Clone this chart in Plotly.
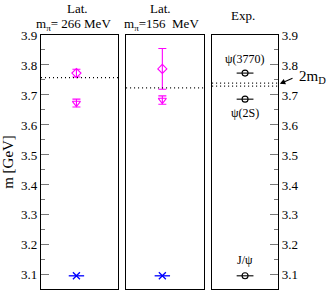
import plotly.graph_objects as go

# ---- data ----
lat266_mass = [3.773, 3.673]
lat266_err = [0.013, 0.013]
lat266_symbols = ["diamond-open", "triangle-down-open"]
lat156_mass = [3.787, 3.683]
lat156_err = [0.068, 0.014]
jpsi_lat = [3.097, 3.097]
exp_names = ["ψ(3770)", "ψ(2S)", "J/ψ"]
exp_mass = [3.773, 3.686, 3.097]
thr266 = 3.758
thr156 = 3.724
thr_exp = [3.7297, 3.7392]
y_ticks = [3.1, 3.2, 3.3, 3.4, 3.5, 3.6, 3.7, 3.8, 3.9]

FONT = "Liberation Serif"
MAG = "#ff00ff"

fig = go.Figure()

# panel 1
for m, e, s in zip(lat266_mass, lat266_err, lat266_symbols):
    fig.add_trace(go.Scatter(x=[0.46], y=[m], mode="markers", xaxis="x", yaxis="y",
                             marker=dict(symbol=s, size=7, color=MAG, line=dict(width=1.1, color=MAG)),
                             error_y=dict(type="data", array=[e], color=MAG, thickness=1.1, width=4)))
# panel 2
for m, e, s in zip(lat156_mass, lat156_err, lat266_symbols):
    fig.add_trace(go.Scatter(x=[0.465], y=[m], mode="markers", xaxis="x2", yaxis="y2",
                             marker=dict(symbol=s, size=7, color=MAG, line=dict(width=1.1, color=MAG)),
                             error_y=dict(type="data", array=[e], color=MAG, thickness=1.1, width=4)))
# J/psi lattice (blue stars)
for xa, ya, xv, yv in [("x", "y", 0.46, jpsi_lat[0]), ("x2", "y2", 0.465, jpsi_lat[1])]:
    for sym, sz in [("x-thin-open", 7), ("line-ew-open", 11)]:
        fig.add_trace(go.Scatter(x=[xv], y=[yv], mode="markers", xaxis=xa, yaxis=ya,
                                 marker=dict(symbol=sym, size=sz, color="blue",
                                             line=dict(width=1.3, color="blue"))))
# panel 3 experiment
exp_x = [0.5] * len(exp_mass)
fig.add_trace(go.Scatter(x=exp_x, y=exp_mass, mode="markers", xaxis="x3", yaxis="y3",
                         marker=dict(symbol="line-ew-open", size=12, color="black",
                                     line=dict(width=1.1, color="black"))))
fig.add_trace(go.Scatter(x=exp_x, y=exp_mass, mode="markers", xaxis="x3", yaxis="y3",
                         marker=dict(symbol="circle-open", size=6, color="black",
                                     line=dict(width=1.1, color="black"))))

# threshold lines
shapes = []
for xr, yr, yv in [("x domain", "y", thr266), ("x2 domain", "y2", thr156),
                   ("x3 domain", "y3", thr_exp[0]), ("x3 domain", "y3", thr_exp[1])]:
    shapes.append(dict(type="line", xref=xr, yref=yr, x0=0, x1=1, y0=yv, y1=yv,
                       line=dict(color="black", width=1.2, dash="1px,3px")))

ann = []
# exp labels
ann.append(dict(x=0.5, y=exp_mass[0], xref="x3", yref="y3", text=exp_names[0], showarrow=False,
                yshift=14, font=dict(family=FONT, size=12, color="black")))
ann.append(dict(x=0.5, y=exp_mass[1], xref="x3", yref="y3", text=exp_names[1], showarrow=False,
                yshift=-14, font=dict(family=FONT, size=12, color="black")))
ann.append(dict(x=0.5, y=exp_mass[2], xref="x3", yref="y3", text=exp_names[2], showarrow=False,
                yshift=16, font=dict(family=FONT, size=12, color="black")))
# 2m_D with arrow
ann.append(dict(x=1.0, y=(thr_exp[0] + thr_exp[1]) / 2, xref="x3 domain", yref="y3",
                ax=16, ay=-7, axref="pixel", ayref="pixel",
                text="", showarrow=True, arrowhead=2, arrowsize=1, arrowwidth=1.1,
                arrowcolor="black", standoff=2))
ann.append(dict(x=1.0, y=(thr_exp[0] + thr_exp[1]) / 2, xref="x3 domain", yref="y3",
                text="2m<sub>D</sub>", showarrow=False, xanchor="left", xshift=19, yshift=8,
                font=dict(family=FONT, size=15, color="black")))
# panel titles
ann.append(dict(x=0.48, y=1, xref="x domain", yref="paper", text="Lat.", showarrow=False,
                yanchor="bottom", yshift=17, font=dict(family=FONT, size=13, color="black")))
ann.append(dict(x=0.42, y=1, xref="x domain", yref="paper", text="m<sub>π</sub>= 266 MeV",
                showarrow=False, yanchor="bottom", yshift=0, font=dict(family=FONT, size=13, color="black")))
ann.append(dict(x=0.44, y=1, xref="x2 domain", yref="paper", text="Lat.", showarrow=False,
                yanchor="bottom", yshift=17, font=dict(family=FONT, size=13, color="black")))
ann.append(dict(x=0.46, y=1, xref="x2 domain", yref="paper", text="m<sub>π</sub>=156  MeV",
                showarrow=False, yanchor="bottom", yshift=0, font=dict(family=FONT, size=13, color="black")))
ann.append(dict(x=0.47, y=1, xref="x3 domain", yref="paper", text="Exp.", showarrow=False,
                yanchor="bottom", yshift=10, font=dict(family=FONT, size=13, color="black")))

yrange = [3.053, 3.9]
common_y = dict(range=yrange, tickvals=y_ticks, ticks="inside", ticklen=8, tickwidth=1,
                tickcolor="#777", showgrid=False, zeroline=False, showline=True, linecolor="black",
                linewidth=1.2, mirror=True,
                minor=dict(dtick=0.05, tick0=3.05, ticks="inside", ticklen=4, tickcolor="#777"),
                tickfont=dict(family=FONT, size=13, color="black"))
common_x = dict(range=[0, 1], showticklabels=False, ticks="", showgrid=False, zeroline=False,
                showline=True, linecolor="black", linewidth=1.2, mirror=True)

fig.update_layout(
    width=332, height=295,
    margin=dict(l=41, r=54, t=35, b=6),
    paper_bgcolor="white", plot_bgcolor="white",
    showlegend=False,
    hovermode=False,
    xaxis=dict(domain=[0, 0.325], **common_x),
    xaxis2=dict(domain=[0.359, 0.688], **common_x),
    xaxis3=dict(domain=[0.722, 1.0], **common_x),
    yaxis=dict(anchor="x", title=dict(text="m [GeV]", font=dict(family=FONT, size=15, color="black"),
                                      standoff=4), **common_y),
    yaxis2=dict(anchor="x2", matches="y", **{**common_y, "showticklabels": False, "ticks": "",
                                              "minor": dict(ticks="")}),
    yaxis3=dict(anchor="x3", side="right", matches="y", **common_y),
    shapes=shapes,
    annotations=ann,
)

fig.write_html("out.html", config={"displayModeBar": False},
               post_script="document.body.style.margin='0';")
